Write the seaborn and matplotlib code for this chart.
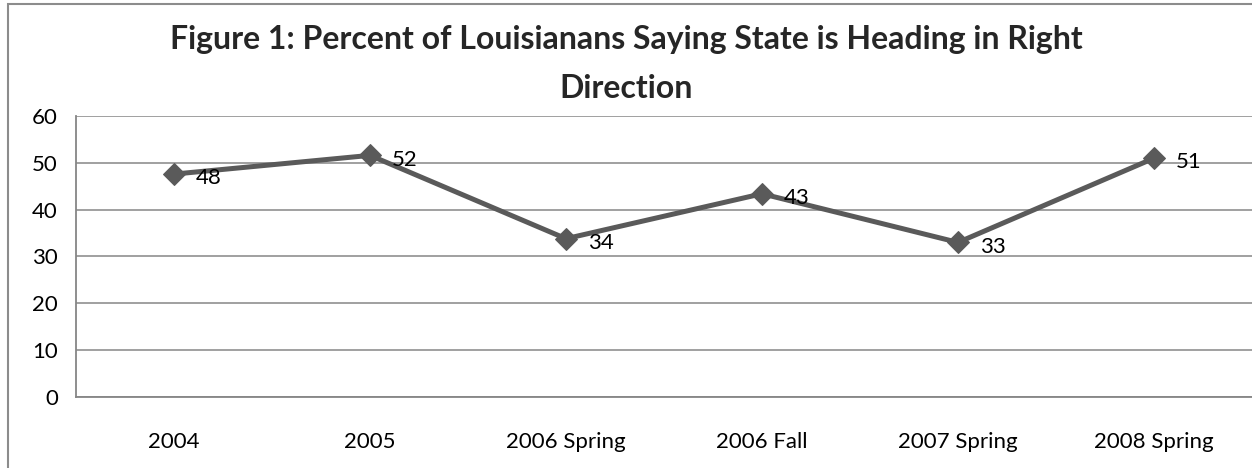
"""Line chart: share of Louisianans saying the state is heading in the right direction."""

import matplotlib
matplotlib.use("Agg")
import matplotlib.pyplot as plt
import pandas as pd
import seaborn as sns
from matplotlib.patches import Rectangle
from matplotlib.ticker import FixedLocator

periods = ["2004", "2005", "2006 Spring", "2006 Fall", "2007 Spring", "2008 Spring"]
pct_right = [47.6, 51.6, 33.8, 43.4, 33.0, 51.0]
yticks = [0, 10, 20, 30, 40, 50, 60]

title_lines = [
    "Figure 1: Percent of Louisianans Saying State is Heading in Right",
    "Direction",
]

LINE = "#5a5a5a"
AXIS = "#868686"

sns.set_style("white")
plt.rcParams["font.family"] = ["Lato", "DejaVu Sans"]

df = pd.DataFrame({"period": periods, "pct": pct_right})

fig = plt.figure(figsize=(12.52, 4.68), dpi=100)
ax = fig.add_axes([0.0607, 0.152, 0.9393, 0.6])

sns.lineplot(
    data=df, x="period", y="pct", sort=False, ax=ax,
    color=LINE, linewidth=3.6, marker="D", markersize=11,
    markeredgecolor=LINE, markerfacecolor=LINE,
)

for i, v in enumerate(pct_right):
    ax.annotate(f"{v:.0f}", (i, v), xytext=(16, -3), textcoords="offset points",
                ha="left", va="center", fontsize=16, color="black")

ax.set_ylim(0, 60)
ax.set_yticks(yticks)
ax.set_xlim(-0.5, len(periods) - 0.5)
ax.xaxis.set_minor_locator(FixedLocator([i - 0.5 for i in range(len(periods) + 1)]))
ax.tick_params(axis="x", which="major", length=0, pad=25, labelsize=16,
               labelcolor="black")
ax.tick_params(axis="x", which="minor", length=6, width=1.2, color=AXIS, direction="out")
ax.tick_params(axis="y", length=6, width=1.2, color=AXIS, direction="out", pad=7,
               labelsize=16, labelcolor="black")
ax.set_xlabel("")
ax.set_ylabel("")

ax.yaxis.grid(True, color=AXIS, linewidth=1.1)
ax.set_axisbelow(True)
for side in ["top", "right"]:
    ax.spines[side].set_visible(False)
for side in ["left", "bottom"]:
    ax.spines[side].set_color(AXIS)
    ax.spines[side].set_linewidth(1.3)

fig.text(0.5, 1 - 40 / 468, title_lines[0], ha="center", va="center",
         fontsize=23, fontweight="bold")
fig.text(0.5, 1 - 88 / 468, title_lines[1], ha="center", va="center",
         fontsize=23, fontweight="bold")

# chart frame (only top and left edges fall inside the picture)
fig.patches.append(Rectangle((8 / 1252, -0.1), 1.1, 1 - 4.5 / 468 + 0.1,
                             transform=fig.transFigure, fill=False,
                             edgecolor="#8c8c8c", linewidth=1.5))

fig.savefig("out.png", dpi=100)
